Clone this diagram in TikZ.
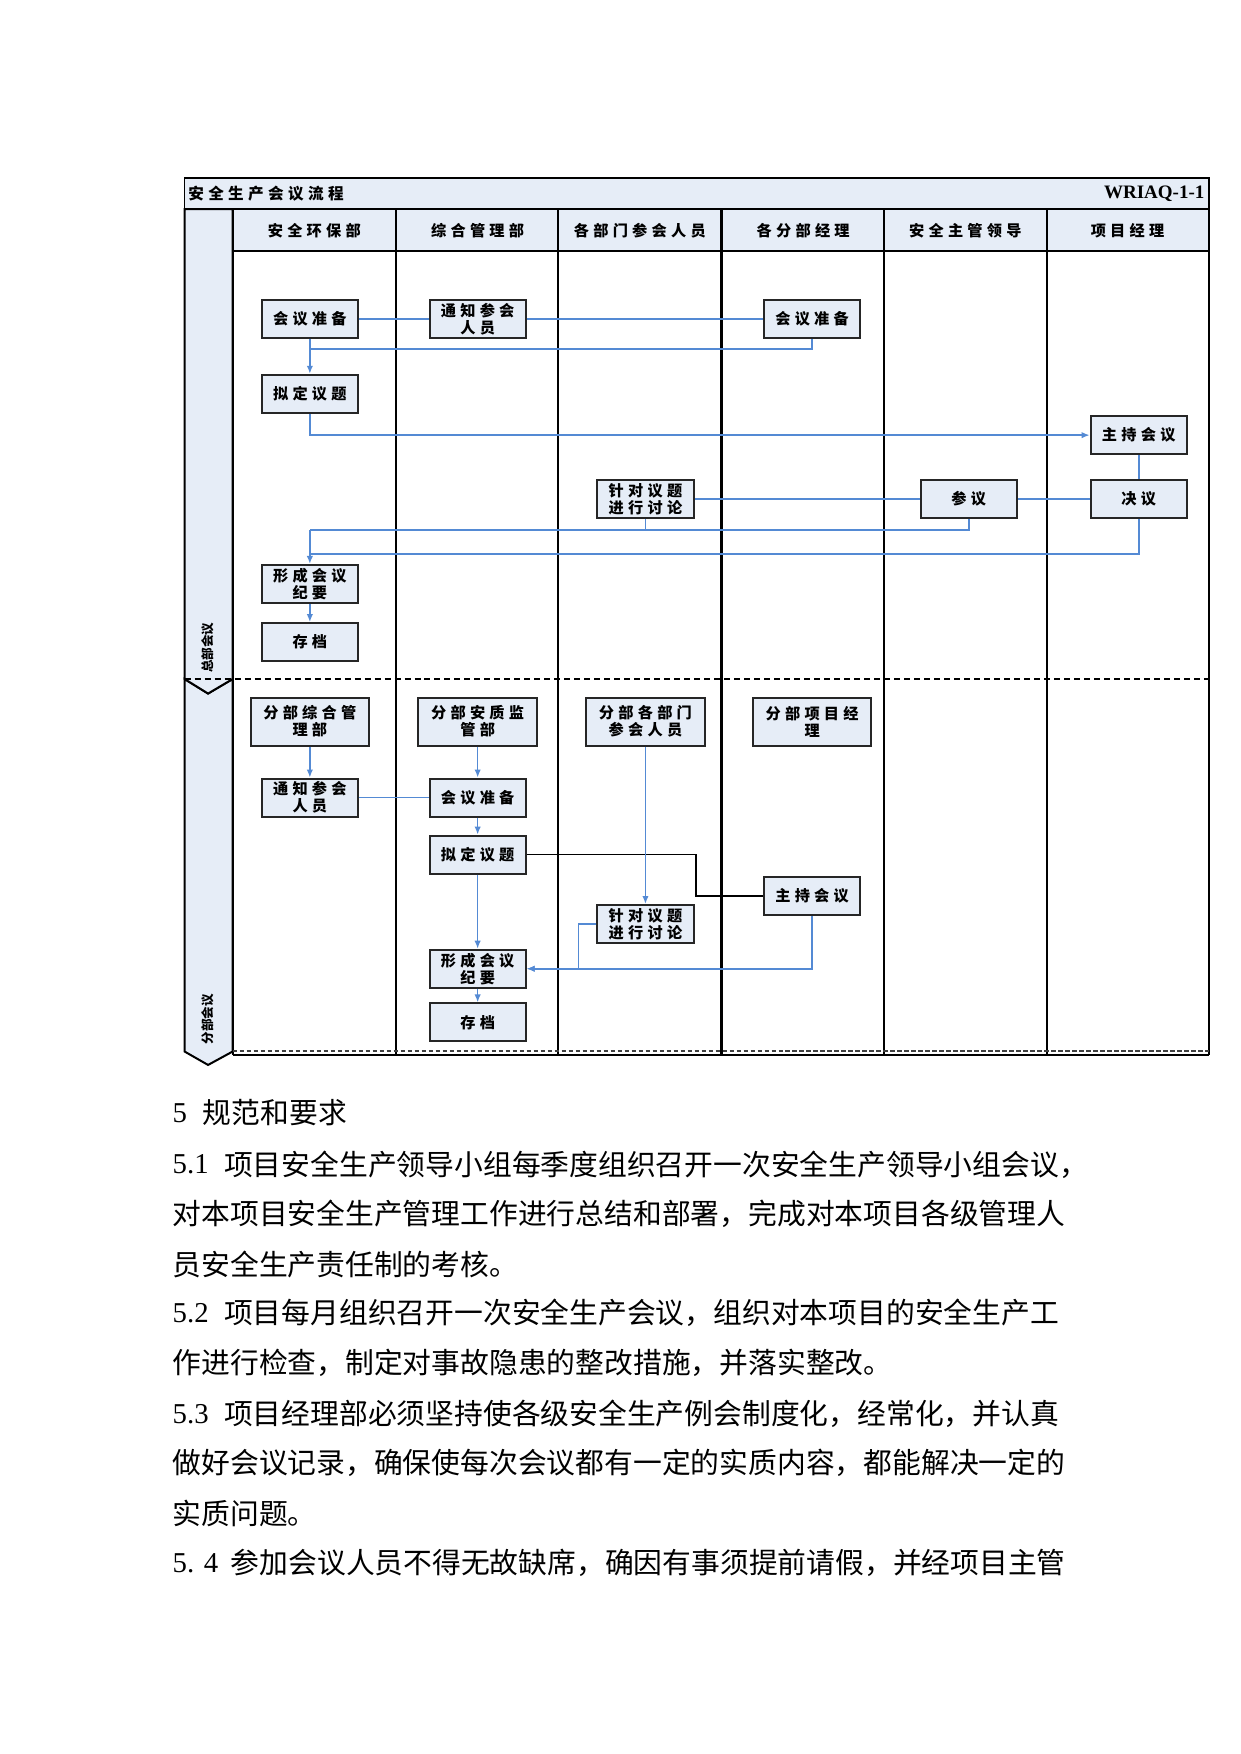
\documentclass[tikz,border=0pt]{standalone}
\usepackage{fontspec}
\setmainfont{Liberation Serif}
\newfontfamily\cjk{Noto Sans CJK SC}
\newfontfamily\cjkls[LetterSpace=28]{Noto Sans CJK SC}
\usetikzlibrary{arrows.meta}
\definecolor{lb}{RGB}{230,237,247}
\definecolor{ln}{RGB}{84,138,212}
\begin{document}
\begin{tikzpicture}[x=0.5595pt,y=-0.5595pt,
  box/.style={draw=black!85,line width=1pt,fill=lb,minimum width=48.1pt,minimum height=19pt,inner sep=0pt,align=center,font=\cjkls\bfseries\fontsize{7.6}{8.6}\selectfont},
  bigbox/.style={box,minimum width=59.3pt,minimum height=24pt},
  link/.style={draw=ln,line width=0.8pt},
  arr/.style={link,-{Latex[length=4pt,width=3.2pt]}},
  blk/.style={draw=black,line width=0.8pt},
  lane/.style={draw=black,line width=1.1pt},
  hdr/.style={inner sep=0pt,font=\cjkls\bfseries\fontsize{7.6}{9}\selectfont},
  phase/.style={rotate=90,inner sep=0pt,font=\cjk\bfseries\fontsize{6.3}{6.3}\selectfont},
  body/.style={anchor=west,inner sep=0pt,font=\cjk\fontsize{14.4}{16}\selectfont},
  num/.style={anchor=west,inner sep=0pt,font=\fontsize{14.4}{16}\selectfont}
]
\useasboundingbox (0,0) rectangle (1109,1568);
\fill[white] (0,0) rectangle (1109,1568);

% title bar and header
\draw[fill=lb,line width=0.9pt] (165,159) rectangle (1081,187);
\foreach \a/\b in {208/354,354/499,499/645,645/790,790/936,936/1081}
  \draw[fill=lb,line width=1pt] (\a,187) rectangle (\b,224);

% phase column
\draw[fill=lb,line width=1pt] (165,607) -- (186,620) -- (208,607) -- (208,940) -- (186,952) -- (165,940) -- cycle;
\draw[fill=lb,line width=1pt] (165,187) -- (208,187) -- (208,607) -- (186,620) -- (165,607) -- cycle;

% lanes
\foreach \x in {208,354,499,645,790,936,1081}
  \draw[lane] (\x,187) -- (\x,943);
\draw[lane] (208,943) -- (1081,943);
\draw[line width=1pt,dash pattern=on 3pt off 2pt] (165,607) -- (1081,607);
\draw[line width=1.4pt,black!75,dash pattern=on 2.4pt off 1.1pt] (208,939.5) -- (1081,939.5);

% texts of frame
\node[anchor=west,inner sep=0pt,font=\cjkls\bfseries\fontsize{7.8}{9}\selectfont] (title) at (168,173) {安全生产会议流程};
\node[anchor=east,inner sep=0pt,font=\bfseries\fontsize{9.5}{10}\selectfont] (code) at (1077,173) {WRIAQ-1-1};
\node[hdr] (h1) at (281,206) {安全环保部};
\node[hdr] (h2) at (427,206) {综合管理部};
\node[hdr] (h3) at (572,206) {各部门参会人员};
\node[hdr] (h4) at (718,206) {各分部经理};
\node[hdr] (h5) at (863,206) {安全主管领导};
\node[hdr] (h6) at (1008,206) {项目经理};
\node[phase] (p1) at (186,579) {总部会议};
\node[phase] (p2) at (186,911) {分部会议};

% top section boxes
\node[box] (t1) at (277,285) {会议准备};
\node[box] (t2) at (427,285) {通知参会\\人员};
\node[box] (t3) at (726,285) {会议准备};
\node[box] (t4) at (277,352) {拟定议题};
\node[box] (t5) at (1018,389) {主持会议};
\node[box] (t6) at (577,446) {针对议题\\进行讨论};
\node[box] (t7) at (866,446) {参议};
\node[box] (t8) at (1018,446) {决议};
\node[box] (t9) at (277,522) {形成会议\\纪要};
\node[box] (t10) at (277,574) {存档};

\coordinate (j1) at (277,312);
\coordinate (j2) at (277,474);
\coordinate (j3) at (277,495);

\draw[link] (t1.east) -- (t2.west);
\draw[link] (t2.east) -- (t3.west);
\draw[link] (t3.south) |- (j1);
\draw[arr] (t1.south) -- (t4.north);
\draw[arr] (t4.south) |- (t5.west);
\draw[link] (t5.south) -- (t8.north);
\draw[link] (t8.west) -- (t7.east);
\draw[link] (t7.west) -- (t6.east);
\draw[link] (t6.south) |- (j2);
\draw[link] (t7.south) |- (j2);
\draw[link] (t8.south) |- (j3);
\draw[arr] (j2) -- (t9.north);
\draw[arr] (t9.south) -- (t10.north);

% bottom section boxes
\node[bigbox] (b1) at (277,645) {分部综合管\\理部};
\node[bigbox] (b2) at (427,645) {分部安质监\\管部};
\node[bigbox] (b3) at (577,645) {分部各部门\\参会人员};
\node[bigbox] (b4) at (726,645) {分部项目经\\理};
\node[box] (b5) at (277,713) {通知参会\\人员};
\node[box] (b6) at (427,713) {会议准备};
\node[box] (b7) at (427,764) {拟定议题};
\node[box] (b8) at (726,801) {主持会议};
\node[box] (b9) at (577,826) {针对议题\\进行讨论};
\node[box] (b10) at (427,866) {形成会议\\纪要};
\node[box] (b11) at (427,914) {存档};

\coordinate (k1) at (622,782);
\coordinate (k2) at (517,846);

\draw[arr] (b1.south) -- (b5.north);
\draw[arr] (b2.south) -- (b6.north);
\draw[link] (b5.east) -- (b6.west);
\draw[arr] (b6.south) -- (b7.north);
\draw[blk] (b7.east) -| (k1) |- (b8.west);
\draw[arr] (b7.south) -- (b10.north);
\draw[arr] (b3.south) -- (b9.north);
\draw[arr] (b9.west) -| (k2) |- (b10.east);
\draw[arr] (b8.south) |- (b10.east);
\draw[arr] (b10.south) -- (b11.north);

% body text
\node[num] (n5) at (154,995) {5};
\node[body] (l0) at (181,995) {规范和要求};
\node[num] (n51) at (154,1041) {5.1};
\node[body] (l1) at (200,1041) {项目安全生产领导小组每季度组织召开一次安全生产领导小组会议，};
\node[body] (l2) at (154,1085) {对本项目安全生产管理工作进行总结和部署，完成对本项目各级管理人};
\node[body] (l3) at (154,1130) {员安全生产责任制的考核。};
\node[num] (n52) at (154,1174) {5.2};
\node[body] (l4) at (200,1174) {项目每月组织召开一次安全生产会议，组织对本项目的安全生产工};
\node[body] (l5) at (154,1218) {作进行检查，制定对事故隐患的整改措施，并落实整改。};
\node[num] (n53) at (154,1264) {5.3};
\node[body] (l6) at (200,1264) {项目经理部必须坚持使各级安全生产例会制度化，经常化，并认真};
\node[body] (l7) at (154,1308) {做好会议记录，确保使每次会议都有一定的实质内容，都能解决一定的};
\node[body] (l8) at (154,1353) {实质问题。};
\node[num] (n54) at (154,1397) {5. 4};
\node[body] (l9) at (206,1397) {参加会议人员不得无故缺席，确因有事须提前请假，并经项目主管};
\end{tikzpicture}
\end{document}
